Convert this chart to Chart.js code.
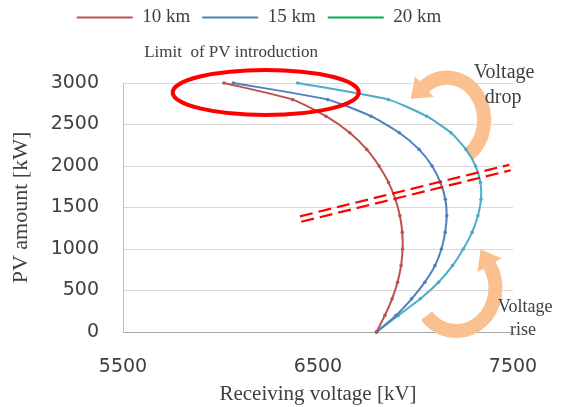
<!DOCTYPE html>
<html>
<head>
<meta charset="utf-8">
<script src="https://cdn.jsdelivr.net/npm/chart.js@4"></script>
<style>
  html, body { margin: 0; padding: 0; background: #fff; }
  #wrap { width: 563px; height: 407px; }
</style>
</head>
<body>
<div id="wrap"><canvas id="pvChart"></canvas></div>
<script>
// PV amount [kW] for each computed point
const pvAmount = [0, 200, 400, 600, 800, 1000, 1200, 1400, 1600, 1800, 2000, 2200, 2400, 2600, 2800, 3000];
// receiving voltage [kV] per line length
const volt10km = [6800, 6843, 6880, 6908, 6926, 6934, 6932, 6920, 6897, 6862, 6813, 6750, 6663, 6541, 6370, 6018];
const volt15km = [6800, 6900, 6980, 7048, 7100, 7133, 7152, 7160, 7153, 7128, 7085, 7018, 6917, 6772, 6550, 6066];
const volt20km = [6800, 6912, 7025, 7118, 7190, 7245, 7290, 7320, 7336, 7333, 7308, 7259, 7182, 7057, 6861, 6396];
const seriesLabels = ['10 km', '15 km', '20 km'];
const xTicks = [5500, 6500, 7500];
const yTicks = [0, 500, 1000, 1500, 2000, 2500, 3000];

const lineColors = ['#c0504d', '#4f7fc0', '#4bacc6'];
const legendColors = ['#c0504d', '#4f81bd', '#00b050'];
const peach = '#fac090';
const serif = "'Liberation Serif', 'Times New Roman', serif";
const textColor = '#404040';

const toPoints = vals => vals.map((v, i) => ({ x: v, y: pvAmount[i] }));

// Annotations (in data units)
const notes = {
    limitText: { x: 6054, y: 3373, text: 'Limit  of PV introduction', size: 17 },
    ellipse: { x: 6232, y: 2886, rx: 477, ry: 271 },
    dashLine: { x1: 6411, y1: 1361, x2: 7485, y2: 1982 },
    dropArrow: { x: 7162, y: 2554, rx: 190, ry: 510, from: 55, to: -128 },
    riseArrow: { x: 7210, y: 530, rx: 200, ry: 518, from: 140, to: -32 },
    dropText: [{ x: 7454, y: 3120, text: 'Voltage' }, { x: 7449, y: 2819, text: 'drop' }],
    riseText: [{ x: 7562, y: 301, text: 'Voltage' }, { x: 7551, y: 24, text: 'rise' }]
};

function drawArrow(ctx, cx, cy, rx, ry, fromDeg, toDeg) {
    const a0 = fromDeg * Math.PI / 180, a1 = toDeg * Math.PI / 180;
    ctx.save();
    ctx.strokeStyle = peach;
    ctx.fillStyle = peach;
    ctx.lineWidth = 14;
    ctx.beginPath();
    ctx.ellipse(cx, cy, rx, ry, 0, a0, a1, true);
    ctx.stroke();
    // arrow head at the end of the arc
    const ex = cx + rx * Math.cos(a1), ey = cy + ry * Math.sin(a1);
    let dx = rx * Math.sin(a1), dy = -ry * Math.cos(a1);
    const len = Math.hypot(dx, dy); dx /= len; dy /= len;
    const nx = -dy, ny = dx;
    ctx.beginPath();
    ctx.moveTo(ex + nx * 14, ey + ny * 14);
    ctx.lineTo(ex - nx * 14, ey - ny * 14);
    ctx.lineTo(ex + dx * 18, ey + dy * 18);
    ctx.closePath();
    ctx.fill();
    ctx.restore();
}

const annotations = {
    id: 'annotations',
    beforeDatasetsDraw(chart) {
        const { ctx, scales: { x, y } } = chart;
        const rxPx = (c, r) => Math.abs(x.getPixelForValue(c + r) - x.getPixelForValue(c));
        const ryPx = (c, r) => Math.abs(y.getPixelForValue(c + r) - y.getPixelForValue(c));
        [notes.dropArrow, notes.riseArrow].forEach(a => {
            drawArrow(ctx, x.getPixelForValue(a.x), y.getPixelForValue(a.y),
                rxPx(a.x, a.rx), ryPx(a.y, a.ry), a.from, a.to);
        });
    },
    afterDatasetsDraw(chart) {
        const { ctx, scales: { x, y } } = chart;
        ctx.save();

        // red ellipse
        const e = notes.ellipse;
        const ex = x.getPixelForValue(e.x), ey = y.getPixelForValue(e.y);
        ctx.strokeStyle = '#ff0000';
        ctx.lineWidth = 4;
        ctx.beginPath();
        ctx.ellipse(ex, ey,
            Math.abs(x.getPixelForValue(e.x + e.rx) - ex),
            Math.abs(y.getPixelForValue(e.y + e.ry) - ey), 0, 0, Math.PI * 2);
        ctx.stroke();

        // double dashed line
        const d = notes.dashLine;
        const x1 = x.getPixelForValue(d.x1), y1 = y.getPixelForValue(d.y1);
        const x2 = x.getPixelForValue(d.x2), y2 = y.getPixelForValue(d.y2);
        const L = Math.hypot(x2 - x1, y2 - y1);
        const nx = -(y2 - y1) / L * 2.8, ny = (x2 - x1) / L * 2.8;
        ctx.lineWidth = 2.2;
        ctx.setLineDash([13, 6]);
        [1, -1].forEach(s => {
            ctx.beginPath();
            ctx.moveTo(x1 + nx * s, y1 + ny * s);
            ctx.lineTo(x2 + nx * s, y2 + ny * s);
            ctx.stroke();
        });
        ctx.setLineDash([]);

        // texts
        ctx.fillStyle = textColor;
        ctx.textAlign = 'center';
        ctx.textBaseline = 'middle';
        const t = notes.limitText;
        ctx.font = t.size + 'px ' + serif;
        ctx.fillText(t.text, x.getPixelForValue(t.x), y.getPixelForValue(t.y));
        ctx.font = '20px ' + serif;
        notes.dropText.forEach(n => ctx.fillText(n.text, x.getPixelForValue(n.x), y.getPixelForValue(n.y)));
        ctx.font = '18px ' + serif;
        notes.riseText.forEach(n => ctx.fillText(n.text, x.getPixelForValue(n.x), y.getPixelForValue(n.y)));
        ctx.restore();
    }
};

// leave room between legend and plot
const legendGap = {
    id: 'legendGap',
    beforeInit(chart) {
        const origFit = chart.legend.fit;
        chart.legend.fit = function () {
            origFit.bind(chart.legend)();
            this.height = 87;
        };
    }
};

const makeSet = (label, vals, color) => ({
    label: label,
    data: toPoints(vals),
    showLine: true,
    borderColor: color,
    backgroundColor: color,
    pointBackgroundColor: color,
    pointBorderColor: color,
    borderWidth: 2,
    pointRadius: 1.8,
    pointBorderWidth: 0,
    tension: 0.2,
    clip: 6
});

const plainNumber = v => String(v);

new Chart(document.getElementById('pvChart'), {
    type: 'scatter',
    data: {
        datasets: [
            makeSet(seriesLabels[0], volt10km, lineColors[0]),
            makeSet(seriesLabels[1], volt15km, lineColors[1]),
            makeSet(seriesLabels[2], volt20km, lineColors[2])
        ]
    },
    options: {
        responsive: true,
        maintainAspectRatio: false,
        animation: false,
        layout: { padding: { left: 5, right: 50, top: -4, bottom: 0 } },
        plugins: {
            tooltip: { enabled: false },
            legend: {
                position: 'top',
                labels: {
                    boxWidth: 56,
                    boxHeight: 2,
                    padding: 12,
                    color: textColor,
                    font: { family: serif, size: 19 },
                    generateLabels(chart) {
                        return Chart.defaults.plugins.legend.labels.generateLabels(chart).map((l, i) => ({
                            ...l, fillStyle: legendColors[i], strokeStyle: legendColors[i], lineWidth: 0
                        }));
                    }
                }
            }
        },
        scales: {
            x: {
                type: 'linear',
                min: xTicks[0],
                max: xTicks[xTicks.length - 1],
                afterBuildTicks: s => { s.ticks = xTicks.map(v => ({ value: v })); },
                afterFit: s => { s.height = 75; },
                grid: { display: false, drawTicks: false },
                border: { color: '#a6a6a6', width: 1 },
                ticks: {
                    padding: 24,
                    color: textColor,
                    callback: plainNumber,
                    font: { family: "'DejaVu Sans', sans-serif", size: 19 }
                },
                title: {
                    display: true,
                    text: 'Receiving voltage [kV]',
                    color: textColor,
                    font: { family: serif, size: 21 },
                    padding: { top: 6, bottom: 0 }
                }
            },
            y: {
                type: 'linear',
                min: yTicks[0],
                max: yTicks[yTicks.length - 1],
                afterBuildTicks: s => { s.ticks = yTicks.map(v => ({ value: v })); },
                afterFit: s => { s.width = 118; },
                grid: { color: '#d9d9d9', drawTicks: false },
                border: { color: '#bfbfbf', width: 1 },
                ticks: {
                    padding: 24,
                    color: textColor,
                    callback: plainNumber,
                    font: { family: "'DejaVu Sans', sans-serif", size: 19 }
                },
                title: {
                    display: true,
                    text: 'PV amount [kW]',
                    color: textColor,
                    font: { family: serif, size: 22 },
                    padding: { top: 3, bottom: 0 }
                }
            }
        }
    },
    plugins: [legendGap, annotations]
});
</script>
</body>
</html>
